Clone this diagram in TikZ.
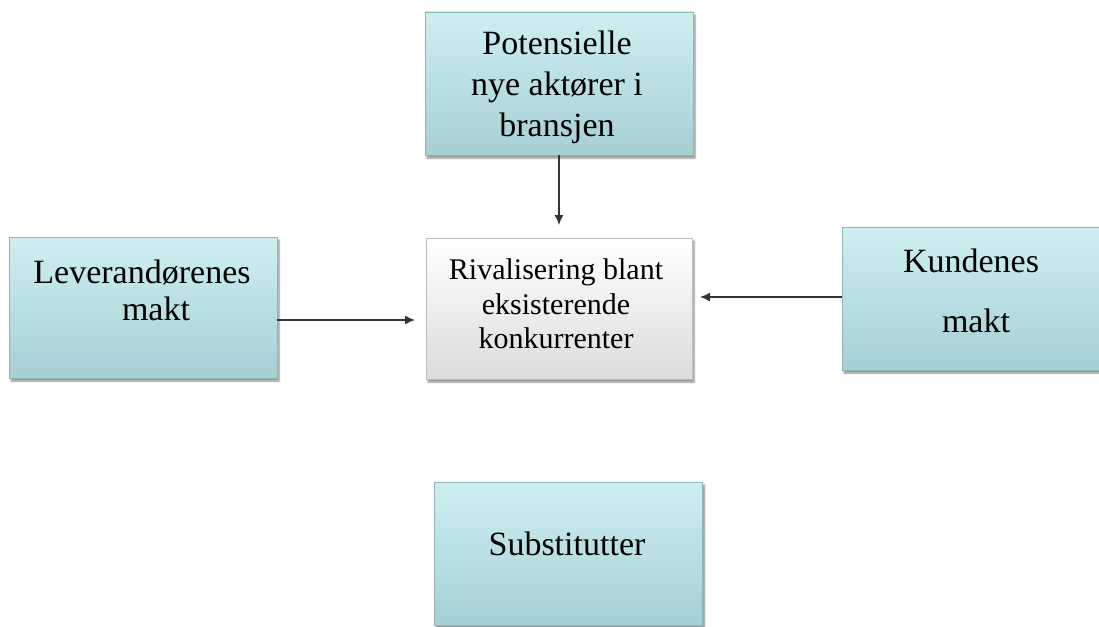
\documentclass[tikz,border=0pt]{standalone}
\usepackage{fontspec}
\setmainfont{Liberation Serif}
\usetikzlibrary{arrows.meta,shadows.blur}
\definecolor{boxtop}{HTML}{CDEFF2}
\definecolor{boxbot}{HTML}{A6D0D4}
\definecolor{boxedge}{HTML}{8CB8BC}
\definecolor{greytop}{HTML}{FFFFFF}
\definecolor{greybot}{HTML}{DCDCDC}
\definecolor{greyedge}{HTML}{BDBDBD}
\definecolor{arrowcol}{HTML}{333333}
\tikzset{
  forcebox/.style={rectangle, draw=boxedge, line width=0.8pt,
    top color=boxtop, bottom color=boxbot,
    minimum width=268pt, minimum height=143pt, inner sep=0pt,
    blur shadow={shadow xshift=2pt, shadow yshift=-3pt, shadow blur steps=6, shadow opacity=45}},
  corebox/.style={forcebox, draw=greyedge, top color=greytop, bottom color=greybot,
    minimum width=266pt, minimum height=141pt},
  bigtext/.style={align=center, inner sep=0pt, font=\fontsize{34}{37}\selectfont},
  flow/.style={draw=arrowcol, line width=1.4pt, -{Latex[length=10pt,width=9pt]}}
}
\begin{document}
\begin{tikzpicture}[x=1pt,y=-1pt]
  \useasboundingbox (0,0) rectangle (1099,626);
  \clip (0,0) rectangle (1099,626);

  % the five forces
  \node[forcebox] (entrants) at (559,83.5) {};
  \node[forcebox, minimum height=141pt] (suppliers) at (143,307.5) {};
  \node[corebox] (rivalry) at (559,308.5) {};
  \node[forcebox] (buyers) at (976,298.5) {};
  \node[forcebox] (substitutes) at (568.5,553.5) {};

  % labels
  \node[bigtext, font=\fontsize{34}{41}\selectfont] (entrantstxt) at (557,87)
    {Potensielle\\nye aktører i\\bransjen};
  \node[bigtext] (supplierstxt) at (142,290)
    {Leverandørenes\\\hspace*{28pt}makt};
  \node[bigtext, font=\fontsize{30}{34.5}\selectfont] (rivalrytxt) at (556,304)
    {Rivalisering blant\\eksisterende\\konkurrenter};
  \node[bigtext, font=\fontsize{34}{60}\selectfont] (buyerstxt) at (971,291)
    {Kundenes\\\hspace*{10pt}makt};
  \node[bigtext] (substitutestxt) at (567,544) {Substitutter};

  % arrow ends
  \coordinate (entrantsend) at (559,225);
  \coordinate (suppliersend) at (415,320);
  \coordinate (buyersend) at (700,297);

  % connectors
  \draw[flow] (entrants.south) -- (entrantsend);
  \draw[flow] (suppliers.east |- suppliersend) -- (suppliersend);
  \draw[flow] (buyers.west |- buyersend) -- (buyersend);
\end{tikzpicture}
\end{document}
